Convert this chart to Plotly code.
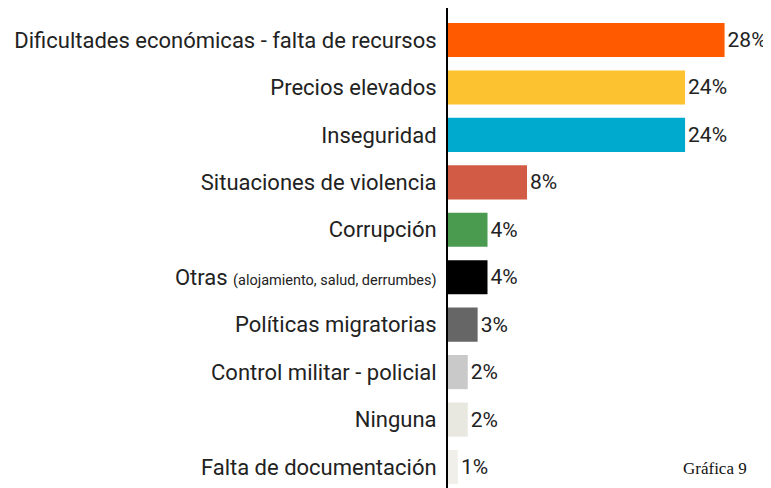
import plotly.graph_objects as go

categories = [
    "Dificultades económicas - falta de recursos",
    "Precios elevados",
    "Inseguridad",
    "Situaciones de violencia",
    "Corrupción",
    'Otras <span style="font-size:14.5px">(alojamiento, salud, derrumbes)</span>',
    "Políticas migratorias",
    "Control militar - policial",
    "Ninguna",
    "Falta de documentación",
]
values = [28, 24, 24, 8, 4, 4, 3, 2, 2, 1]
labels = ["28%", "24%", "24%", "8%", "4%", "4%", "3%", "2%", "2%", "1%"]
colors = ["#FF5A00", "#FCC22F", "#00AACF", "#D25B45", "#4A9A4F",
          "#000000", "#666666", "#C9C9C9", "#E9E8E0", "#F1EFEA"]

positions = list(range(len(categories)))

fig = go.Figure(go.Bar(
    x=values,
    y=positions,
    orientation="h",
    marker=dict(color=colors, line=dict(width=0)),
    width=0.72,
    text=labels,
    textposition="outside",
    textfont=dict(family="Roboto", size=21, color="#222222"),
    cliponaxis=False,
    constraintext="none",
))

fig.update_layout(
    width=763, height=480,
    margin=dict(l=440, r=0, t=0, b=0),
    paper_bgcolor="white",
    plot_bgcolor="white",
    showlegend=False,
    xaxis=dict(range=[0, 32.7], visible=False, fixedrange=True),
    yaxis=dict(
        range=[9.443, -0.675],
        tickvals=positions,
        ticktext=categories,
        tickfont=dict(family="Roboto", size=22, color="#222222"),
        showline=True, linecolor="black", linewidth=2,
        showgrid=False, zeroline=False,
        ticks="", ticklabelstandoff=5,
    ),
    annotations=[dict(
        text="Gráfica 9",
        x=(715 - 448) / 323, y=(488 - 468) / 480,
        xref="paper", yref="paper",
        xanchor="center", yanchor="middle",
        showarrow=False,
        font=dict(family="Liberation Serif", size=17, color="#111111"),
    )],
)

fig.write_html("out.html")
